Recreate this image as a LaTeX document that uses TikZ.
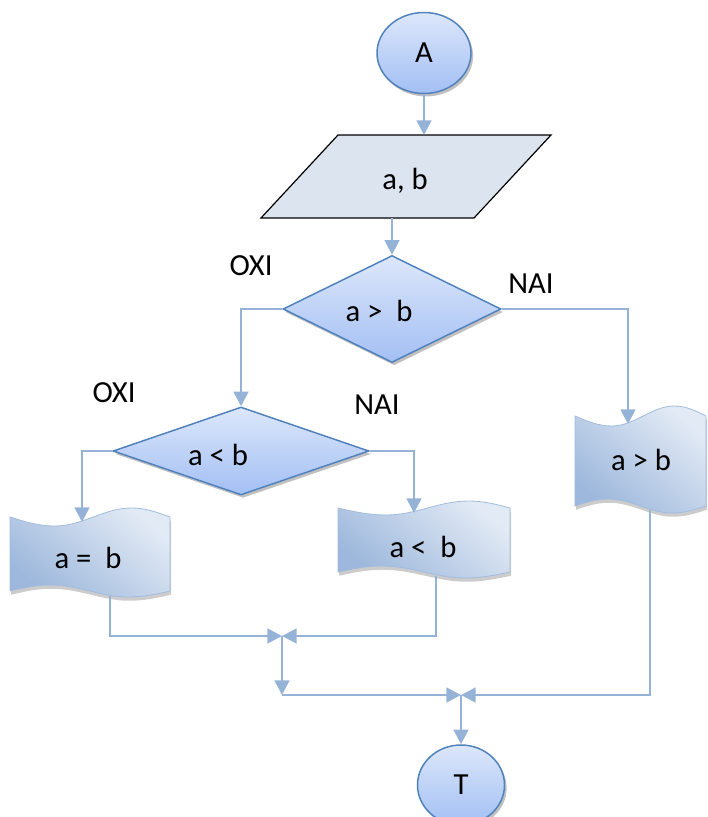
\documentclass[tikz,border=0pt]{standalone}
\usepackage{fontspec}
\setmainfont{Carlito}
\usetikzlibrary{shapes.geometric,arrows.meta,shadows,calc}

\definecolor{conn}{HTML}{95B3D7}
\definecolor{edge}{HTML}{4F81BD}
\definecolor{fillhi}{HTML}{DCE7FB}
\definecolor{filllo}{HTML}{A3BFF3}
\definecolor{iofill}{HTML}{DCE4F0}
\definecolor{tapehi}{HTML}{E2EAF5}
\definecolor{tapelo}{HTML}{9DB8DC}
\definecolor{tapeedge}{HTML}{A2BCDD}

% punched-tape outline: x0, x1, top mid y, bottom mid y, top amplitude, bottom amplitude
\newcommand{\tapepath}[6]{(#1,#3)
  sin ({#1+(#2-#1)*0.28},{#3+#5}) cos ({#1+(#2-#1)*0.52},#3)
  sin ({#1+(#2-#1)*0.76},{#3-#5}) cos (#2,#3) -- (#2,#4)
  sin ({#1+(#2-#1)*0.74},{#4+#6}) cos ({#1+(#2-#1)*0.5},#4)
  sin ({#1+(#2-#1)*0.25},{#4-#6}) cos (#1,#4) -- cycle}

\tikzset{
  every node/.style={font=\fontsize{23}{27}\selectfont},
  softshadow/.style={drop shadow={shadow xshift=1.6pt, shadow yshift=-2.2pt,
      fill=black!45, opacity=0.55}},
  terminal/.style={ellipse, draw=edge, line width=1.1pt, top color=fillhi,
      bottom color=filllo, softshadow, inner sep=0pt},
  decision/.style={diamond, draw=edge, line width=1.1pt, top color=fillhi,
      bottom color=filllo, softshadow, inner sep=0pt},
  tape/.style={draw=tapeedge, line width=0.6pt, top color=tapehi,
      bottom color=tapelo, shading angle=-40,
      drop shadow={shadow xshift=0.8pt, shadow yshift=-2.8pt,
      fill=black!40, opacity=0.5}},
  textlabel/.style={inner sep=0pt},
  anchorbox/.style={rectangle, inner sep=0pt, outer sep=0pt},
  flow/.style={draw=conn, line width=2pt, -{Triangle[length=11pt,width=11pt]}},
}

\begin{document}
\begin{tikzpicture}[x=0.75pt,y=-0.75pt]
\useasboundingbox (0,0) rectangle (707,817);

% start terminal
\node[terminal, minimum width=70.5pt, minimum height=60.75pt] (start) at (424,53) {A};

% input parallelogram
\fill[iofill] (338,135) -- (551,135) -- (474,218) -- (261,218) -- cycle;
\draw[black, line width=0.9pt] (338,135) -- (551,135) -- (474,218) -- (261,218) -- cycle;
\node[anchorbox, minimum width=159.75pt, minimum height=62.25pt] (input) at (406,176.5) {};
\node[textlabel] (inputtext) at (405,181) {a, b};

% decisions
\node[decision, minimum width=163.5pt, minimum height=80.25pt] (dec1) at (392,309) {};
\node[textlabel] (dec1text) at (379,311) {a >\ \ b};
\node[decision, minimum width=192pt, minimum height=66pt] (dec2) at (241,451) {};
\node[textlabel] (dec2text) at (218,455) {a < b};

% branch labels
\node[textlabel] (no1) at (251,266) {OXI};
\node[textlabel] (yes1) at (531,284) {NAI};
\node[textlabel] (no2) at (114,393) {OXI};
\node[textlabel] (yes2) at (377,405) {NAI};

% result tapes
\path[tape] \tapepath{10}{170}{517}{591}{9}{6};
\node[textlabel] (res1) at (88,558) {a =\ \ b};
\path[tape] \tapepath{338}{510}{508}{572}{7}{6};
\node[textlabel] (res2) at (423,547) {a <\ \ b};
\path[tape] \tapepath{575}{706}{416}{506}{10}{7};
\node[textlabel] (res3) at (641,460) {a > b};

% connection points on the tape edges and merge points
\coordinate (t1in) at (82,522);
\coordinate (t2in) at (414,513);
\coordinate (t3in) at (628,424);
\coordinate (t1out) at (110,596);
\coordinate (t2out) at (436,576);
\coordinate (t3out) at (650,510);
\coordinate (j1) at (282,636);
\coordinate (j2) at (282,695);
\coordinate (j3) at (461,695);

% stop terminal
\node[terminal, minimum width=65.25pt, minimum height=60pt] (stop) at (461,785) {T};

% connectors
\draw[flow] (start.south) -- (start.south |- input.north);
\draw[flow] (dec1.north |- input.south) -- (dec1.north);
\draw[flow] (dec1.west) -| (dec2.north);
\draw[flow] (dec1.east) -| (t3in);
\draw[flow] (dec2.west) -| (t1in);
\draw[flow] (dec2.east) -| (t2in);
\draw[flow] (t1out) |- (j1);
\draw[flow] (t2out) |- (j1);
\draw[flow] (j1) -- (j2);
\draw[flow] (j2) -- (j3);
\draw[flow] (t3out) |- (j3);
\draw[flow] (j3) -- (stop.north);
\end{tikzpicture}
\end{document}
